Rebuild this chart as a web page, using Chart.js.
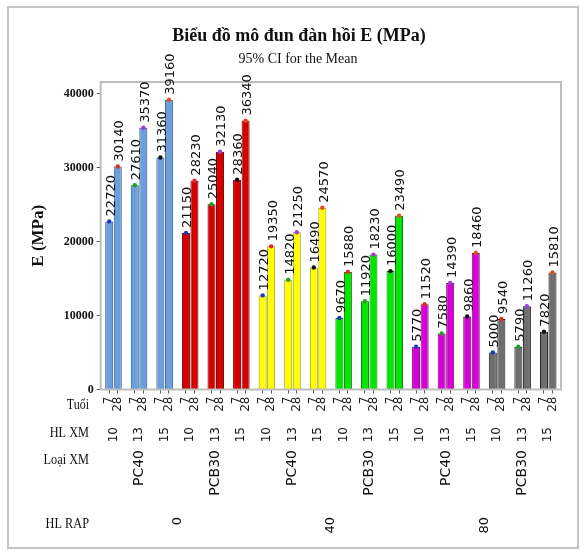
<!DOCTYPE html>
<html>
<head>
<meta charset="utf-8">
<title>Biểu đồ mô đun đàn hồi E</title>
<script src="https://cdn.jsdelivr.net/npm/chart.js@4.4.1/dist/chart.umd.min.js"></script>
<style>
  html, body { margin: 0; padding: 0; background: #fff; }
  canvas { display: block; }
</style>
</head>
<body>
<canvas id="eChart" width="585" height="557"></canvas>
<script>
// axis levels, outer to inner: HL RAP > Loai XM > HL XM > Tuoi
const rapContents = ['0', '40', '80'];
const cementTypes = ['PC40', 'PCB30'];
const cementContents = ['10', '13', '15'];
const ages = ['7', '28'];

// E (MPa), same order as the levels above
const eValues = [
  22720, 30140, 27610, 35370, 31360, 39160,
  21150, 28230, 25040, 32130, 28360, 36340,
  12720, 19350, 14820, 21250, 16490, 24570,
  9670, 15880, 11920, 18230, 16000, 23490,
  5770, 11520, 7580, 14390, 9860, 18460,
  5000, 9540, 5790, 11260, 7820, 15810
];
const yTicks = [0, 10000, 20000, 30000, 40000];

const groupFill = ['#6a9fdb', '#d40000', '#ffff00', '#00e600', '#d600d6', '#6e6e6e'];
const groupBorder = ['#2a5590', '#7a0000', '#9a9a00', '#007a00', '#7a007a', '#1a1a1a'];
const meanDotColors = ['#1c3cc0', '#e02a2a', '#22a022', '#9b3fd6', '#111111', '#e0501e'];

// categories: one per bar, an empty one between pairs and at both ends
const labels = [''];
const pairs = [];
rapContents.forEach((rap, r) => {
  cementTypes.forEach((type, t) => {
    cementContents.forEach((content, c) => {
      if (labels.length > 1) labels.push('');
      pairs.push({ rap, type, content, r, t, c, first: labels.length });
      ages.forEach(age => labels.push(age));
    });
  });
});
labels.push('');

const barData = [], fills = [], borders = [], dots = [];
let v = 0;
labels.forEach(lab => {
  if (lab === '') {
    barData.push(null); fills.push('transparent'); borders.push('transparent'); dots.push('transparent');
    return;
  }
  const g = Math.floor(v / 6);
  barData.push(eValues[v]);
  fills.push(groupFill[g]);
  borders.push(groupBorder[g]);
  dots.push(meanDotColors[v % 6]);
  v++;
});

function drawText(ctx, text, x, y, opt) {
  ctx.save();
  ctx.translate(x, y);
  if (opt.rotate) ctx.rotate(-Math.PI / 2);
  if (opt.scaleX) ctx.scale(opt.scaleX, 1);
  ctx.font = opt.font;
  ctx.fillStyle = opt.color || '#111';
  ctx.textAlign = opt.align || 'center';
  ctx.textBaseline = opt.baseline || 'middle';
  ctx.fillText(text, 0, 0);
  ctx.restore();
}

const framePlugin = {
  id: 'frame',
  beforeDraw(chart) {
    const ctx = chart.ctx;
    ctx.save();
    ctx.fillStyle = '#fff';
    ctx.fillRect(0, 0, chart.width, chart.height);
    ctx.strokeStyle = '#c4c4c4';
    ctx.lineWidth = 2;
    ctx.strokeRect(8, 7, 570, 541);
    ctx.restore();
  },
  afterDatasetsDraw(chart) {
    const { ctx, chartArea: a } = chart;
    ctx.save();
    ctx.strokeStyle = '#bdbdbd';
    ctx.lineWidth = 2;
    ctx.strokeRect(a.left, a.top, a.right - a.left, a.bottom - a.top);
    ctx.restore();
  }
};

const textPlugin = {
  id: 'texts',
  afterDraw(chart) {
    const ctx = chart.ctx;
    const x = chart.scales.x;
    const serif = '"Liberation Serif", "Times New Roman", serif';
    const sans = '"DejaVu Sans", sans-serif';

    // value labels above bars
    const bars = chart.getDatasetMeta(1).data;
    bars.forEach((bar, i) => {
      if (barData[i] == null) return;
      drawText(ctx, String(barData[i]), bar.x + 2, bar.y - 5,
        { rotate: true, align: 'left', font: '13px ' + sans, color: '#111' });
    });

    // HL XM row
    const pairX = p => (x.getPixelForValue(p.first) + x.getPixelForValue(p.first + 1)) / 2;
    pairs.forEach(p => {
      drawText(ctx, p.content, pairX(p), 427, { rotate: true, align: 'right', font: '12px ' + sans });
    });

    // Loai XM row
    const typeX = {};
    pairs.filter(p => p.c === 1).forEach(p => {
      typeX[p.r + '-' + p.t] = pairX(p);
      drawText(ctx, p.type, pairX(p), 450, { rotate: true, align: 'right', font: '14px ' + sans });
    });

    // HL RAP row
    rapContents.forEach((rap, r) => {
      const cx = (typeX[r + '-0'] + typeX[r + '-1']) / 2;
      drawText(ctx, rap, cx, 517, { rotate: true, align: 'right', font: '13px ' + sans });
    });

    // row names
    drawText(ctx, 'Tuổi', 89, 405, { align: 'right', font: '15px ' + serif, scaleX: 0.8 });
    drawText(ctx, 'HL XM', 89, 433, { align: 'right', font: '15px ' + serif, scaleX: 0.82 });
    drawText(ctx, 'Loại XM', 89, 460, { align: 'right', font: '15px ' + serif, scaleX: 0.82 });
    drawText(ctx, 'HL RAP', 89, 524, { align: 'right', font: '15px ' + serif, scaleX: 0.82 });

    // titles
    drawText(ctx, 'Biểu đồ mô đun đàn hồi E (MPa)', 299, 36, { font: 'bold 18px ' + serif });
    drawText(ctx, '95% CI for the Mean', 298, 59, { font: '14px ' + serif });
  }
};

new Chart(document.getElementById('eChart'), {
  type: 'bar',
  data: {
    labels: labels,
    datasets: [
      {
        type: 'line',
        data: barData,
        showLine: false,
        pointRadius: 2.2,
        pointBorderWidth: 0,
        pointBackgroundColor: dots,
        pointBorderColor: dots,
        order: 0
      },
      {
        data: barData,
        backgroundColor: fills,
        borderColor: borders,
        borderWidth: 1,
        barPercentage: 0.94,
        categoryPercentage: 1,
        order: 1
      }
    ]
  },
  options: {
    responsive: false,
    animation: false,
    layout: { padding: { left: 24, top: 82, right: 24, bottom: 0 } },
    plugins: {
      legend: { display: false },
      tooltip: { enabled: false }
    },
    scales: {
      x: {
        offset: false,
        afterFit: s => { s.height = 557 - 389.5; },
        grid: {
          offset: false,
          drawOnChartArea: false,
          tickLength: 4,
          color: c => (labels[c.index] ? '#555' : 'transparent')
        },
        border: { display: false },
        ticks: {
          autoSkip: false,
          minRotation: 90,
          maxRotation: 90,
          padding: 3,
          color: '#222',
          font: { family: 'DejaVu Sans', size: 12 }
        }
      },
      y: {
        min: 0,
        max: 41560,
        afterBuildTicks: s => { s.ticks = yTicks.map(value => ({ value })); },
        afterFit: s => { s.width = 100.7 - 24; },
        grid: { drawOnChartArea: false, tickLength: 4, color: '#555' },
        border: { display: false },
        ticks: {
          padding: 3,
          color: '#111',
          font: { family: 'Liberation Serif', size: 12, weight: 'bold' },
          callback: val => String(val)
        },
        title: {
          display: true,
          text: 'E (MPa)',
          color: '#111',
          font: { family: 'Liberation Serif', size: 17, weight: 'bold' },
          padding: { top: 4, bottom: 0 }
        }
      }
    }
  },
  plugins: [framePlugin, textPlugin]
});
</script>
</body>
</html>
